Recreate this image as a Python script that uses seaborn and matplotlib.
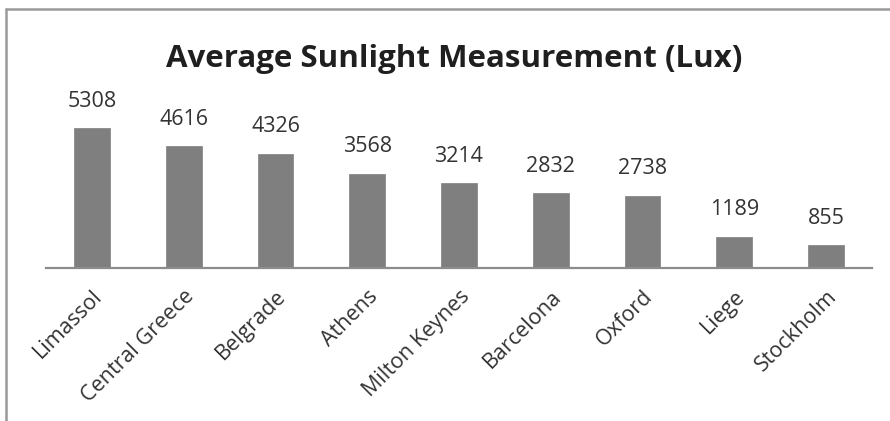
import matplotlib
matplotlib.use('Agg')
import matplotlib.pyplot as plt
import seaborn as sns
import pandas as pd

cities = ['Limassol', 'Central Greece', 'Belgrade', 'Athens', 'Milton Keynes',
          'Barcelona', 'Oxford', 'Liege', 'Stockholm']
lux = [5308, 4616, 4326, 3568, 3214, 2832, 2738, 1189, 855]

df = pd.DataFrame({'City': cities, 'Lux': lux})

sns.set_style('white')
plt.rcParams['font.family'] = ['Open Sans', 'DejaVu Sans']

fig = plt.figure(figsize=(8.9, 4.21), dpi=100)
ax = fig.add_axes([46/890, (421-268)/421, (872-46)/890, (268-110)/421])

sns.barplot(x='City', y='Lux', data=df, color='#7f7f7f', width=0.39,
            saturation=1, edgecolor='#8a8a8a', linewidth=0.6, ax=ax)

ax.set_ylim(0, 6000)
ax.set_xlim(-0.5, len(cities) - 0.5)
ax.set_yticks([])
ax.set_xlabel('')
ax.set_ylabel('')
for s in ['top', 'right', 'left']:
    ax.spines[s].set_visible(False)
ax.spines['bottom'].set_color('#8c8c8c')
ax.spines['bottom'].set_linewidth(1.6)

for p in ax.patches:
    h = p.get_height()
    ax.annotate(f'{int(h)}', (p.get_x() + p.get_width()/2, h),
                xytext=(0, 12), textcoords='offset points', ha='center', va='bottom',
                fontsize=15.5, color='#333333', annotation_clip=False)

ax.tick_params(axis='x', length=0, pad=13)
plt.setp(ax.get_xticklabels(), rotation=45, ha='right', rotation_mode='anchor',
         fontsize=15.5, color='#333333')

fig.text(454/890, 1 - 59/421, 'Average Sunlight Measurement (Lux)', ha='center', va='center',
         fontsize=22.5, fontweight='bold', color='#1f1f1f')

# chart frame (top and left edges visible)
fig.add_artist(plt.Line2D([6/890, 1], [1 - 9/421, 1 - 9/421], color='#9a9a9a', lw=1.8,
                          transform=fig.transFigure))
fig.add_artist(plt.Line2D([6/890, 6/890], [0, 1 - 9/421], color='#9a9a9a', lw=1.8,
                          transform=fig.transFigure))

plt.savefig('out.png', dpi=100)
